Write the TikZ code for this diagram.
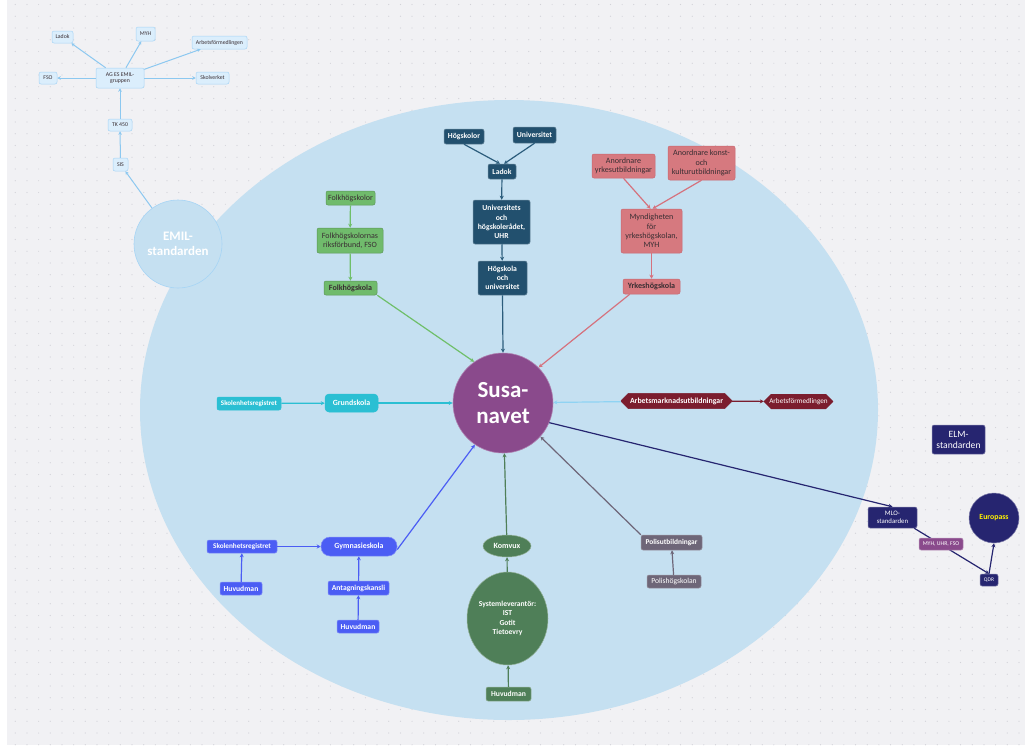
\documentclass[tikz,border=0pt]{standalone}
\usepackage{fontspec}
\setmainfont{Carlito}
\usetikzlibrary{arrows.meta,shapes.geometric,shapes.misc}
\definecolor{bggrey}{HTML}{F1F1F4}
\definecolor{dotgrey}{HTML}{D2D2D8}
\definecolor{bigblue}{HTML}{C5E0F1}
\definecolor{emilfill}{HTML}{DBEEFC}
\definecolor{emildraw}{HTML}{A6D4F5}
\definecolor{emilarr}{HTML}{8CC8F0}
\definecolor{teal}{HTML}{22506E}
\definecolor{tealarr}{HTML}{2C5D7C}
\definecolor{pinkf}{HTML}{D6797F}
\definecolor{pinkd}{HTML}{C96770}
\definecolor{pinkarr}{HTML}{D5727E}
\definecolor{folkf}{HTML}{70BB6C}
\definecolor{folkarr}{HTML}{6FBF6A}
\definecolor{cyanf}{HTML}{2BBFD3}
\definecolor{lblarr}{HTML}{8FD3F3}
\definecolor{wine}{HTML}{7B1D2E}
\definecolor{bluef}{HTML}{4B5DF4}
\definecolor{komf}{HTML}{4F7F58}
\definecolor{polf}{HTML}{6E6678}
\definecolor{navy}{HTML}{262570}
\definecolor{purp}{HTML}{8A4A8C}
\definecolor{darktxt}{HTML}{3A2E33}
\tikzset{
  base/.style={rectangle, rounded corners=2pt, inner sep=1pt, align=center, line width=0.5pt},
  ebox/.style={base, fill=emilfill, draw=emildraw, text=darktxt, font=\fontsize{5.8}{6.4}\selectfont},
  earr/.style={draw=emilarr, line width=1pt, -{Stealth[length=3.5pt,width=3.5pt]}},
  tbox/.style={base, fill=teal, draw=teal!70!white, text=white, font=\bfseries\fontsize{7.7}{9.2}\selectfont},
  tarr/.style={draw=tealarr, line width=1.2pt, -{Stealth[length=4pt,width=4pt]}},
  pbox/.style={base, fill=pinkf, draw=pinkd, text=darktxt, font=\fontsize{8.1}{9.4}\selectfont},
  parr/.style={draw=pinkarr, line width=1.2pt, -{Stealth[length=4pt,width=4pt]}},
  fbox/.style={base, fill=folkf, draw=folkf!80!black, text=darktxt, font=\fontsize{8}{9.2}\selectfont},
  farr/.style={draw=folkarr, line width=1.2pt, -{Stealth[length=4pt,width=4pt]}},
  cbox/.style={base, fill=cyanf, draw=cyanf, text=white, font=\bfseries\fontsize{7}{8}\selectfont},
  carr/.style={draw=cyanf, line width=1.2pt, -{Stealth[length=4pt,width=4pt]}},
  wbox/.style={chamfered rectangle, chamfered rectangle xsep=4pt, inner sep=1pt, fill=wine, draw=wine, text=white, font=\bfseries\fontsize{7.8}{8}\selectfont},
  warr/.style={draw=wine, line width=1.2pt, -{Stealth[length=4pt,width=4pt]}},
  bbox/.style={base, fill=bluef, draw=bluef!70!white, text=white, font=\bfseries\fontsize{7.6}{8}\selectfont},
  barr/.style={draw=bluef, line width=1.2pt, -{Stealth[length=4pt,width=4pt]}},
  kbox/.style={base, fill=komf, draw=komf!60!white, text=white, font=\bfseries\fontsize{7.6}{9.4}\selectfont},
  karr/.style={draw=komf, line width=1.2pt, -{Stealth[length=4pt,width=4pt]}},
  obox/.style={base, fill=polf, draw=polf!70!white, text=white, font=\bfseries\fontsize{7.4}{8}\selectfont},
  oarr/.style={draw=polf, line width=1.2pt, -{Stealth[length=4pt,width=4pt]}},
  nbox/.style={base, fill=navy, draw=navy!60!white, text=white},
  narr/.style={draw=navy, line width=1.2pt, -{Stealth[length=4pt,width=4pt]}},
}
\begin{document}
\begin{tikzpicture}[x=1pt,y=-1pt]
\useasboundingbox (0,0) rectangle (1025,748);
\fill[white] (0,0) rectangle (1025,748);
\fill[bggrey] (7,0) rectangle (1025,745);
\foreach \i in {0,...,86} {
  \foreach \j in {0,...,63} {
    \fill[dotgrey] (15.3+\i*11.67, 4.5+\j*11.75) circle (0.6);
  }
}
% big ellipse
\fill[bigblue] (509,410) ellipse [x radius=369, y radius=310];

% EMIL cluster
\node[circle, minimum size=88, fill=bigblue, draw=emildraw, line width=0.6pt, text=white, align=center, font=\bfseries\fontsize{13}{14.5}\selectfont] (emil) at (178,244) {EMIL-\\standarden};
\node[ebox, minimum width=21, minimum height=12] (eladok) at (62.5,37) {Ladok};
\node[ebox, minimum width=19, minimum height=14] (emyh) at (145.5,34) {MYH};
\node[ebox, minimum width=55, minimum height=13] (earb) at (219.5,42.5) {Arbetsförmedlingen};
\node[ebox, minimum width=18, minimum height=12] (efso) at (48,78) {FSO};
\node[ebox, minimum width=48, minimum height=20] (eag) at (120,78) {AG ES EMIL-\\gruppen};
\node[ebox, minimum width=33, minimum height=12] (eskv) at (212.5,78) {Skolverket};
\node[ebox, minimum width=24, minimum height=12] (etk) at (120,125) {TK 450};
\node[ebox, minimum width=15, minimum height=13] (esis) at (120.5,164.5) {SIS};
\draw[earr] (emil) -- (esis);
\draw[earr] (esis) -- (etk);
\draw[earr] (etk) -- (eag);
\draw[earr] (eag) -- (eladok);
\draw[earr] (eag) -- (emyh);
\draw[earr] (eag) -- (earb);
\draw[earr] (eag) -- (efso);
\draw[earr] (eag) -- (eskv);

% Susa-navet
\node[circle, minimum size=100, fill=purp, draw=purp!70!white, line width=0.6pt, text=white, align=center, font=\bfseries\fontsize{23}{26}\selectfont] (susa) at (503,403) {Susa-\\navet};

% Teal cluster
\node[tbox, minimum width=40, minimum height=15] (hsk) at (464,136.5) {Högskolor};
\node[tbox, minimum width=43, minimum height=16] (uni) at (534.5,135) {Universitet};
\node[tbox, minimum width=28, minimum height=15] (ladok) at (502,171.5) {Ladok};
\node[tbox, minimum width=57, minimum height=44] (uhr) at (501.5,222) {Universitets\\och\\högskolerådet,\\UHR};
\node[tbox, minimum width=49, minimum height=34] (hou) at (502.5,278) {Högskola\\och\\universitet};
\draw[tarr] (hsk.south) -- ([xshift=-2pt]ladok.north);
\draw[tarr] (uni.south) -- ([xshift=2pt]ladok.north);
\draw[tarr] (ladok) -- (uhr);
\draw[tarr] (uhr) -- (hou);
\draw[tarr] (hou.south) -- (susa.north);

% Pink cluster
\node[pbox, minimum width=63, minimum height=24] (ay) at (623.5,166) {Anordnare\\yrkesutbildningar};
\node[pbox, minimum width=67, minimum height=34] (ak) at (701.5,163) {Anordnare konst-\\och\\kulturutbildningar};
\node[pbox, minimum width=61, minimum height=44] (myh) at (651.5,231) {Myndigheten\\för\\yrkeshögskolan,\\MYH};
\node[pbox, minimum width=57, minimum height=15, font=\bfseries\fontsize{8.1}{9}\selectfont] (yrk) at (651.5,286.5) {Yrkeshögskola};
\draw[parr] (ay.south) -- ([xshift=-1pt]myh.north);
\draw[parr] (ak.south) -- ([xshift=1pt]myh.north);
\draw[parr] (myh) -- (yrk);
\draw[parr] ([xshift=7pt]yrk.south west) -- (susa.45);

% Folk cluster
\node[fbox, minimum width=49, minimum height=14] (fhs) at (350.5,198) {Folkhögskolor};
\node[fbox, minimum width=66, minimum height=25] (fso) at (350,240.5) {Folkhögskolornas\\riksförbund, FSO};
\node[fbox, minimum width=53, minimum height=14, font=\bfseries\fontsize{8}{9}\selectfont] (folk) at (350.5,288) {Folkhögskola};
\draw[farr] (fhs) -- (fso);
\draw[farr] (fso) -- (folk);
\draw[farr] (folk.south east) -- (susa.125);

% Grundskola
\node[cbox, minimum width=64, minimum height=13] (ser1) at (249,403.5) {Skolenhetsregistret};
\node[cbox, rounded corners=4pt, minimum width=53, minimum height=18, font=\bfseries\fontsize{7.9}{8}\selectfont] (grund) at (351.5,403) {Grundskola};
\draw[carr] (ser1) -- (grund);
\draw[carr] (grund) -- (susa);

% Arbetsmarknad
\node[wbox, minimum width=111, minimum height=14] (arbm) at (676.5,401) {Arbetsmarknadsutbildningar};
\node[wbox, minimum width=69, minimum height=13, font=\fontsize{7.2}{8}\selectfont] (arbf) at (798.5,401.5) {Arbetsförmedlingen};
\draw[warr] (arbm) -- (arbf);
\draw[draw=lblarr, line width=1.2pt, -{Stealth[length=4pt,width=4pt]}] (arbm) -- (susa);

% Gymnasieskola
\node[bbox, minimum width=70, minimum height=13, font=\bfseries\fontsize{7.2}{8}\selectfont] (ser2) at (242,546.5) {Skolenhetsregistret};
\node[bbox, rounded corners=9pt, minimum width=76, minimum height=19, font=\bfseries\fontsize{7.9}{8}\selectfont] (gym) at (359,546.5) {Gymnasieskola};
\node[bbox, minimum width=42, minimum height=13] (hv1) at (241,588.5) {Huvudman};
\node[bbox, minimum width=61, minimum height=14] (ant) at (358.5,588) {Antagningskansli};
\node[bbox, minimum width=42, minimum height=13] (hv2) at (358,626.5) {Huvudman};
\draw[barr] (ser2) -- (gym);
\draw[barr] (hv1) -- (ser2);
\draw[barr] (ant) -- (gym);
\draw[barr] (hv2) -- (ant);
\draw[barr] ([yshift=-3pt]gym.east) -- (susa.236);

% Komvux
\node[kbox, ellipse, minimum width=48, minimum height=22, font=\bfseries\fontsize{8}{9}\selectfont] (kom) at (507,546) {Komvux};
\node[kbox, ellipse, minimum width=71, minimum height=93, inner sep=0pt] (sys) at (507.5,618.5) {Systemleverantör:\\IST\\Gotit\\Tietoevry};
\node[kbox, minimum width=45, minimum height=14] (hv3) at (508.5,694) {Huvudman};
\draw[karr] (hv3) -- (sys);
\draw[karr] (sys) -- (kom);
\draw[karr] (kom) -- (susa);

% Polis
\node[obox, minimum width=61, minimum height=15] (pu) at (671.5,542.5) {Polisutbildningar};
\node[obox, minimum width=54, minimum height=13, font=\fontsize{7.6}{8}\selectfont] (ph) at (674,581.5) {Polishögskolan};
\draw[oarr] (ph) -- (pu);
\draw[oarr] (pu.north west) -- (susa.318);

% Right side
\node[nbox, minimum width=53, minimum height=29, font=\fontsize{9.6}{11}\selectfont] (elm) at (958.5,439.5) {ELM-\\standarden};
\node[nbox, minimum width=49, minimum height=21, font=\fontsize{6.8}{7.8}\selectfont] (mlo) at (892.5,517.5) {MLO-\\standarden};
\node[circle, minimum size=50, fill=navy, draw=navy!60!white, line width=0.5pt, text=yellow, font=\bfseries\fontsize{7.8}{9}\selectfont] (euro) at (994,518) {Europass};
\node[nbox, minimum width=18, minimum height=12, font=\fontsize{5.5}{6}\selectfont] (qdr) at (989,580) {QDR};
\draw[narr] ([xshift=-3pt]mlo.south east) -- (qdr.north);
\node[base, fill=purp, draw=purp!60!white, text=white, minimum width=44, minimum height=12, font=\fontsize{5.8}{6.4}\selectfont] (muf) at (941,544) {MYH, UHR, FSO};
\draw[narr] (qdr.north) -- (euro.south);
\draw[narr] (susa.-23) -- (mlo.north);
\end{tikzpicture}
\end{document}
